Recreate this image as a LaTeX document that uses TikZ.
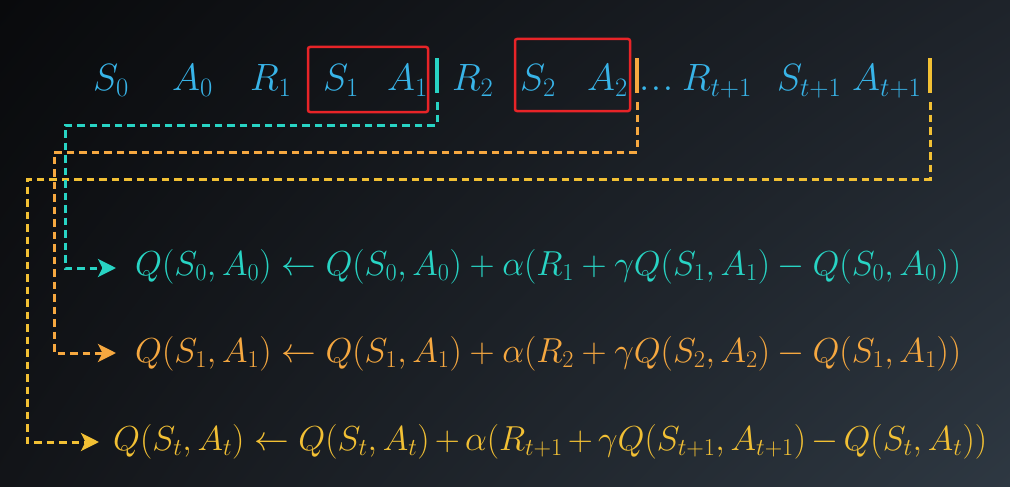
\RequirePackage{fix-cm}
\documentclass[tikz,border=0pt]{standalone}
\usetikzlibrary{arrows.meta,shadings}
\definecolor{seqblue}{RGB}{56,180,232}
\definecolor{cteal}{RGB}{40,212,196}
\definecolor{corange}{RGB}{246,168,64}
\definecolor{cyellow}{RGB}{242,192,52}
\definecolor{cred}{RGB}{232,36,40}
\definecolor{bgA}{RGB}{9,10,12}
\definecolor{bgB}{RGB}{30,35,42}
\definecolor{bgC}{RGB}{18,20,24}
\definecolor{bgD}{RGB}{46,56,66}
\begin{document}
\begin{tikzpicture}[x=1pt,y=-1pt,
  seq/.style={anchor=base west, inner sep=0pt, text=seqblue, font=\fontsize{38}{44}\selectfont},
  eqn/.style={anchor=base west, inner sep=0pt, font=\fontsize{34.7}{40}\selectfont},
  barnode/.style={draw=none, inner sep=0pt, minimum width=4pt, minimum height=35pt},
  redbox/.style={draw=cred, line width=2.5pt, rounded corners=2pt},
  link/.style={line width=3pt, dash pattern=on 7.5pt off 5pt, shorten <=9pt,
     -{Stealth[length=18pt,width=18pt,inset=4.5pt]}}]
\shade[upper left=bgA, upper right=bgB, lower left=bgC, lower right=bgD] (0,0) rectangle (1010,487);
\useasboundingbox (0,0) rectangle (1010,487);

% top sequence
\node[seq] (s0) at (93,91) {$S_0$};
\node[seq] (a0) at (172,91) {$A_0$};
\node[seq] (r1) at (250,91) {$R_1$};
\node[seq] (s1) at (323,91) {$S_1$};
\node[seq] (a1) at (387,91) {$A_1$};
\node[seq] (r2) at (452,91) {$R_2$};
\node[seq] (s2) at (520,91) {$S_2$};
\node[seq] (a2) at (587,91) {$A_2$};
\node[seq] (dots) at (639,91) {$.\kern1.5pt.\kern1.5pt.$};
\node[seq] (rt) at (682,91) {$R_{t+1}$};
\node[seq] (st) at (777,91) {$S_{t+1}$};
\node[seq] (at) at (852,91) {$A_{t+1}$};

% red boxes
\draw[redbox] (308,47) rectangle (428,112);
\draw[redbox] (515,39) rectangle (630,111);

% bars
\node[barnode, fill=cteal] (b1) at (437,75.5) {};
\node[barnode, fill=corange] (b2) at (637,75.5) {};
\node[barnode, fill=cyellow] (b3) at (930,75.5) {};

% equations
\node[eqn, text=cteal] (e1) at (135,275) {$Q(S_0,A_0)\leftarrow Q(S_0,A_0)+\alpha(R_1+\gamma Q(S_1,A_1)-Q(S_0,A_0))$};
\node[eqn, text=corange] (e2) at (135,362) {$Q(S_1,A_1)\leftarrow Q(S_1,A_1)+\alpha(R_2+\gamma Q(S_2,A_2)-Q(S_1,A_1))$};
\node[eqn, text=cyellow] (e3) at (113,450) {$\medmuskip=2.7mu Q(S_t,A_t)\leftarrow Q(S_t,A_t)+\alpha(R_{t+1}+\gamma Q(S_{t+1},A_{t+1})-Q(S_t,A_t))$};

% connector corners and ends
\coordinate (c1) at (65,125);
\coordinate (c2) at (54,152);
\coordinate (c3) at (27,179);
\coordinate (t1) at (116,268);
\coordinate (t2) at (116,353);
\coordinate (t3) at (99,442);

\draw[link, cyellow] (b3.south) |- (c3) |- (t3);
\draw[link, corange] (b2.south) |- (c2) |- (t2);
\draw[link, cteal] (b1.south) |- (c1) |- (t1);
\end{tikzpicture}
\end{document}
